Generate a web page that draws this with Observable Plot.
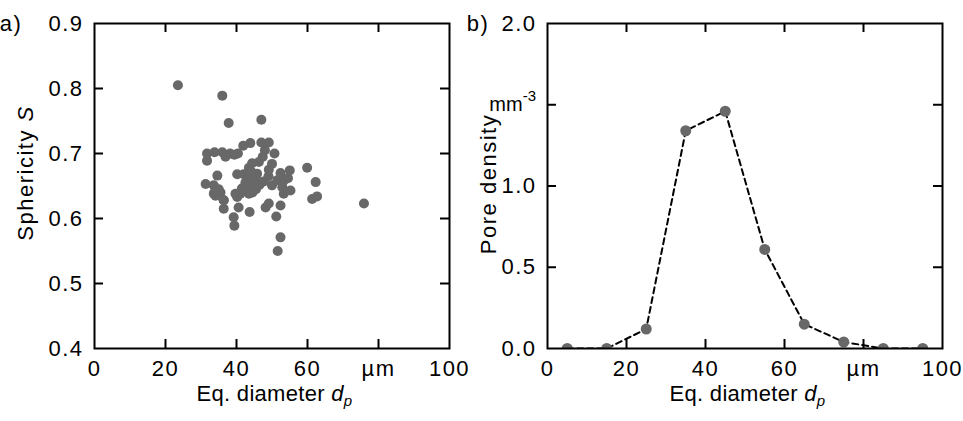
<!DOCTYPE html>
<html>
<head>
<meta charset="utf-8">
<script src="https://cdn.jsdelivr.net/npm/d3@7"></script>
<script src="https://cdn.jsdelivr.net/npm/@observablehq/plot@0.6"></script>
<style>
  html, body { margin: 0; padding: 0; background: #ffffff; }
  #wrap { display: flex; flex-direction: row; width: 963px; height: 421px; }
  svg text { font-family: "Liberation Sans", Arial, sans-serif; letter-spacing: 1.5px; }
  svg text.xtitle { letter-spacing: 0.3px; }
</style>
</head>
<body>
<div id="wrap"></div>
<script>
// ---------- Data ----------
// Panel a: equivalent diameter (µm) and sphericity of individual pores
const diameterA = [
  23.5, 36.0, 37.8, 47.0, 75.9, 51.6, 52.4, 39.4, 39.2, 51.2,
  43.7, 36.4, 40.6, 48.2, 49.1, 52.4, 36.4, 61.3, 62.7, 40.2,
  39.7, 41.1, 43.5, 44.5, 53.3, 33.6, 35.5, 34.1, 31.3, 33.6,
  35.0, 50.0, 52.9, 55.2, 62.3, 45.8, 47.7, 51.5, 53.3, 43.9,
  40.2, 42.0, 34.6, 52.4, 55.0, 59.9, 49.1, 43.5, 44.4, 50.0,
  46.3, 47.4, 50.7, 31.7, 31.7, 33.8, 36.0, 36.9, 39.4, 40.4,
  41.9, 43.9, 47.0, 49.1, 45.8, 42.1, 45.5, 46.5, 42.5, 38.2,
  48.0, 44.2, 54.5, 49.0, 36.4, 33.8, 41.5, 44.0
];
const sphericityA = [
  0.805, 0.789, 0.747, 0.752, 0.623, 0.550, 0.571, 0.589, 0.602, 0.603,
  0.610, 0.628, 0.617, 0.617, 0.623, 0.620, 0.615, 0.630, 0.634, 0.633,
  0.638, 0.638, 0.638, 0.640, 0.638, 0.638, 0.640, 0.635, 0.653, 0.651,
  0.645, 0.651, 0.648, 0.643, 0.656, 0.658, 0.657, 0.659, 0.658, 0.664,
  0.668, 0.668, 0.666, 0.670, 0.674, 0.678, 0.675, 0.678, 0.685, 0.684,
  0.687, 0.695, 0.700, 0.700, 0.689, 0.702, 0.702, 0.695, 0.698, 0.700,
  0.712, 0.716, 0.717, 0.717, 0.669, 0.643, 0.645, 0.652, 0.655, 0.700,
  0.705, 0.672, 0.662, 0.665, 0.628, 0.640, 0.646, 0.650
];

// Panel b: pore density per diameter bin (mm^-3)
const binCenters = [5, 15, 25, 35, 45, 55, 65, 75, 85, 95];
const poreDensity = [0.0, 0.0, 0.12, 1.34, 1.46, 0.61, 0.15, 0.04, 0.0, 0.0];

// Ticks
const xTicks = [0, 20, 40, 60, 80, 100];
const xTickLabels = ["0", "20", "40", "60", "µm", "100"];
const xInnerTicks = [20, 40, 60, 80];
const yTicksA = [0.4, 0.5, 0.6, 0.7, 0.8, 0.9];
const yTickLabelsA = ["0.4", "0.5", "0.6", "0.7", "0.8", "0.9"];
const yInnerTicksA = [0.5, 0.6, 0.7, 0.8];
const yTicksB = [0, 0.5, 1.0, 1.5, 2.0];
const yTickLabelsB = ["0.0", "0.5", "1.0", "", "2.0"];
const yInnerTicksB = [0.5, 1.0, 1.5];

// ---------- Layout ----------
const H = 421, FS = 22, TICK = 9;
const FONT = "'Liberation Sans', Arial, sans-serif";
const style = {fontFamily: FONT, fontSize: FS + "px", background: "transparent", color: "black", overflow: "visible"};
const mA = {left: 94, right: 21, top: 23, bottom: 73, width: 470};
const mB = {left: 77, right: 21, top: 23, bottom: 73, width: 493};
const frameH = H - mA.top - mA.bottom;

function tickMarks(m, xInner, yInner) {
  const fw = m.width - m.left - m.right;
  return [
    Plot.tickX(xInner, {x: d => d, insetTop: frameH - TICK, stroke: "black", strokeWidth: 2}),
    Plot.tickX(xInner, {x: d => d, insetBottom: frameH - TICK, stroke: "black", strokeWidth: 2}),
    Plot.tickY(yInner, {y: d => d, insetRight: fw - TICK, stroke: "black", strokeWidth: 2}),
    Plot.tickY(yInner, {y: d => d, insetLeft: fw - TICK, stroke: "black", strokeWidth: 2})
  ];
}

const plotA = Plot.plot({
  width: mA.width, height: H,
  marginLeft: mA.left, marginRight: mA.right, marginTop: mA.top, marginBottom: mA.bottom,
  style,
  x: {domain: [0, 100], ticks: xTicks, tickFormat: d => xTickLabels[xTicks.indexOf(d)], tickSize: 0, tickPadding: 12, label: null},
  y: {domain: [0.4, 0.9], ticks: yTicksA, tickFormat: d => yTickLabelsA[yTicksA.indexOf(d)], tickSize: 0, tickPadding: 11, label: null},
  marks: [
    ...tickMarks(mA, xInnerTicks, yInnerTicksA),
    Plot.dot(diameterA.map((d, i) => ({d, s: sphericityA[i]})), {x: "d", y: "s", r: 5, fill: "#686868", stroke: "none"}),
    Plot.frame({stroke: "black", strokeWidth: 2})
  ]
});

const plotB = Plot.plot({
  width: mB.width, height: H,
  marginLeft: mB.left, marginRight: mB.right, marginTop: mB.top, marginBottom: mB.bottom,
  style,
  x: {domain: [0, 100], ticks: xTicks, tickFormat: d => xTickLabels[xTicks.indexOf(d)], tickSize: 0, tickPadding: 12, label: null},
  y: {domain: [0, 2], ticks: yTicksB, tickFormat: d => yTickLabelsB[yTicksB.indexOf(d)], tickSize: 0, tickPadding: 11, label: null},
  marks: [
    ...tickMarks(mB, xInnerTicks, yInnerTicksB),
    Plot.line(binCenters.map((c, i) => ({c, p: poreDensity[i]})), {x: "c", y: "p", stroke: "black", strokeWidth: 2, strokeDasharray: "6,4", clip: true}),
    Plot.dot(binCenters.map((c, i) => ({c, p: poreDensity[i]})), {x: "c", y: "p", r: 5.5, fill: "#686868", stroke: "none", clip: true}),
    Plot.frame({stroke: "black", strokeWidth: 2})
  ]
});

// ---------- Annotations (real text) ----------
function addLabels(svg, opts) {
  const sx = svg.scale("x"), sy = svg.scale("y");
  const g = d3.select(svg).append("g").attr("font-size", FS).attr("fill", "black").attr("font-family", FONT);
  // x-axis title
  const cx = (sx.range[0] + sx.range[1]) / 2;
  const t = g.append("text").attr("class", "xtitle").attr("x", cx + 3).attr("y", H - 20).attr("text-anchor", "middle");
  t.append("tspan").text("Eq. diameter ");
  t.append("tspan").attr("font-style", "italic").text("d");
  t.append("tspan").attr("font-style", "italic").attr("font-size", 15).attr("dy", 5).text("p");
  // y-axis title
  const yt = g.append("text").attr("transform", `translate(${opts.yTitleX},${opts.yTitleY}) rotate(-90)`).attr("text-anchor", "middle");
  opts.yTitle(yt);
  // panel letter
  g.append("text").attr("x", opts.letterX).attr("y", sy.apply(sy.domain[1])).attr("dy", "0.36em").text(opts.letter);
}

addLabels(plotA, {
  letter: "a)", letterX: 11, yTitleX: 33, yTitleY: 173,
  yTitle: t => { t.append("tspan").text("Sphericity "); t.append("tspan").attr("font-style", "italic").text("S"); }
});
addLabels(plotB, {
  letter: "b)", letterX: 8, yTitleX: 26, yTitleY: 184,
  yTitle: t => { t.append("tspan").text("Pore density"); }
});
// unit label at the 1.5 tick of panel b
{
  const sx = plotB.scale("x"), sy = plotB.scale("y");
  const u = d3.select(plotB).append("text").attr("font-size", 20).attr("font-family", FONT)
    .attr("x", sx.range[0] - 11).attr("y", sy.apply(1.5)).attr("dy", "0.36em").attr("text-anchor", "end")
    .style("letter-spacing", "0px");
  u.append("tspan").text("mm");
  u.append("tspan").attr("font-size", 15).attr("dy", -10).attr("dx", 0).text("-3");
}

document.getElementById("wrap").append(plotA, plotB);
</script>
</body>
</html>
